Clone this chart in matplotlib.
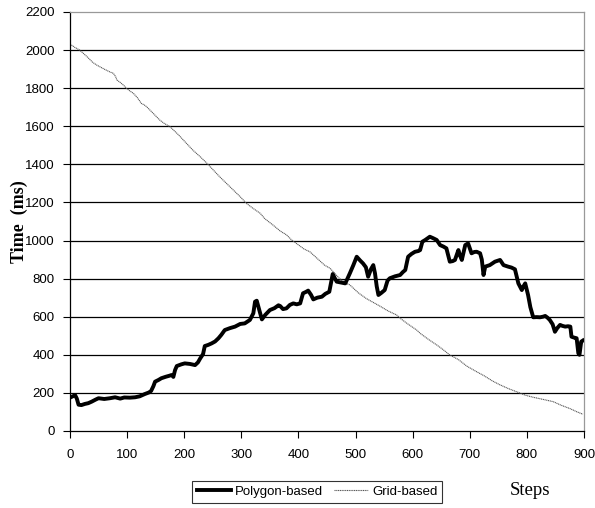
import matplotlib
matplotlib.use("Agg")
import matplotlib.pyplot as plt

# Polygon-based (thick line)
poly_x = [0, 5, 9, 12, 15, 20, 26, 32, 38, 45, 50, 60, 70, 79, 88, 95, 105, 114, 122, 131,
          138, 142, 146, 149, 155, 160, 168, 174, 178, 181, 184, 187, 195, 201, 210, 219, 224, 228,
          233, 236, 242, 248, 254, 260, 265, 271, 280, 289, 298, 306, 315, 321, 324, 327, 330, 333,
          336, 342, 350, 358, 365, 368, 373, 379, 385, 391, 397, 403, 408, 413, 417, 422, 426, 433,
          441, 447, 454, 460, 464, 467, 474, 482, 490, 496, 502, 508, 513, 518, 522, 527, 531, 534,
          537, 540, 545, 551, 556, 560, 569, 578, 583, 587, 592, 598, 604, 610, 613, 617, 622, 630,
          636, 642, 648, 654, 659, 665, 670, 674, 680, 683, 686, 692, 697, 703, 708, 712, 718, 721,
          724, 727, 735, 744, 753, 759, 767, 773, 779, 785, 791, 794, 797, 802, 806, 811, 817, 823,
          828, 832, 836, 840, 845, 849, 853, 858, 862, 867, 872, 876, 878, 883, 887, 890, 892, 895, 898]
poly_y = [175, 182, 188, 170, 138, 136, 142, 146, 154, 165, 172, 168, 172, 177, 170, 176, 175, 177, 182, 194,
          202, 210, 235, 259, 268, 277, 285, 290, 294, 284, 320, 341, 350, 355, 352, 346, 360, 381,
          404, 446, 452, 460, 470, 487, 505, 530, 540, 548, 562, 565, 583, 618, 679, 684, 650, 618,
          586, 610, 635, 645, 660, 656, 640, 644, 662, 670, 665, 670, 723, 730, 737, 715, 691, 700,
          705, 720, 731, 824, 800, 784, 780, 775, 828, 870, 915, 895, 880, 860, 810, 850, 871, 828,
          760, 714, 725, 740, 790, 802, 812, 819, 835, 845, 915, 930, 941, 945, 950, 994, 1003, 1020,
          1012, 1003, 976, 968, 959, 889, 892, 898, 950, 920, 898, 976, 985, 933, 940, 941, 933, 900,
          819, 863, 871, 889, 898, 871, 863, 858, 849, 775, 740, 760, 775, 714, 650, 597, 598, 597,
          600, 604, 595, 583, 560, 521, 540, 557, 552, 548, 550, 548, 495, 490, 487, 408, 400, 469, 475]

# Grid-based (thin line)
grid_x = [0, 8, 17, 30, 40, 47, 60, 70, 76, 80, 82, 88, 94, 99, 105, 111, 118, 125, 130, 134,
          145, 157, 165, 175, 190, 204, 215, 228, 240, 251, 262, 274, 286, 298, 309, 320, 333, 341,
          356, 368, 379, 388, 400, 410, 420, 435, 446, 455, 461, 472, 484, 490, 505, 519, 531, 543,
          557, 572, 578, 590, 607, 613, 628, 642, 652, 665, 680, 695, 712, 725, 740, 753, 768, 782,
          797, 811, 825, 846, 860, 875, 888, 898]
grid_y = [2032, 2015, 2000, 1965, 1935, 1921, 1900, 1885, 1878, 1860, 1843, 1830, 1815, 1799, 1785, 1773,
          1750, 1720, 1712, 1703, 1670, 1633, 1615, 1598, 1555, 1510, 1475, 1440, 1405, 1370, 1335, 1300,
          1265, 1230, 1195, 1170, 1143, 1115, 1080, 1050, 1030, 1003, 977, 955, 941, 900, 870, 855, 836,
          800, 775, 767, 725, 695, 675, 655, 630, 609, 592, 565, 530, 513, 480, 452, 430, 399, 375, 340,
          311, 290, 262, 242, 222, 206, 188, 177, 168, 154, 135, 118, 100, 88]

x_ticks = list(range(0, 901, 100))
y_ticks = list(range(0, 2201, 200))

plt.rcParams['font.family'] = ['Liberation Sans', 'DejaVu Sans']

fig = plt.figure(figsize=(5.95, 5.08), dpi=100)
ax = fig.add_axes([0.1176, 0.1516, 0.864, 0.8248])

for yv in y_ticks[1:-1]:
    ax.axhline(yv, color='black', linewidth=0.9, zorder=1)

ax.plot(poly_x, poly_y, color='black', linewidth=2.8, solid_joinstyle='round',
        label='Polygon-based', zorder=3)
ax.plot(grid_x, grid_y, color='#555555', linewidth=0.8, linestyle=(0, (1, 0.6)),
        label='Grid-based', zorder=2)

ax.set_xlim(0, 900)
ax.set_ylim(0, 2200)
ax.set_xticks(x_ticks)
ax.set_yticks(y_ticks)
ax.tick_params(axis='both', direction='out', length=5, width=0.8, labelsize=9.5,
               colors='black', pad=6)
ax.tick_params(axis='x', pad=8)

ax.spines['left'].set_color('black')
ax.spines['bottom'].set_color('black')
ax.spines['top'].set_color('#999999')
ax.spines['right'].set_color('#999999')
for s in ax.spines.values():
    s.set_linewidth(0.9)

fig.text(0.032, 0.563, 'Time  (ms)', rotation=90, ha='center', va='center',
         fontsize=13, fontweight='bold', family='Liberation Serif')
fig.text(0.891, 0.035, 'Steps', ha='center', va='center', fontsize=13.5,
         family='Liberation Serif')

leg = fig.legend(loc='center', bbox_to_anchor=(0.533, 0.0315), ncol=2, fontsize=9.5,
                 frameon=True, fancybox=False, edgecolor='black', handlelength=2.6,
                 handletextpad=0.3, columnspacing=0.8, borderpad=0.35)
leg.get_frame().set_linewidth(0.8)

fig.savefig('out.png', dpi=100)
